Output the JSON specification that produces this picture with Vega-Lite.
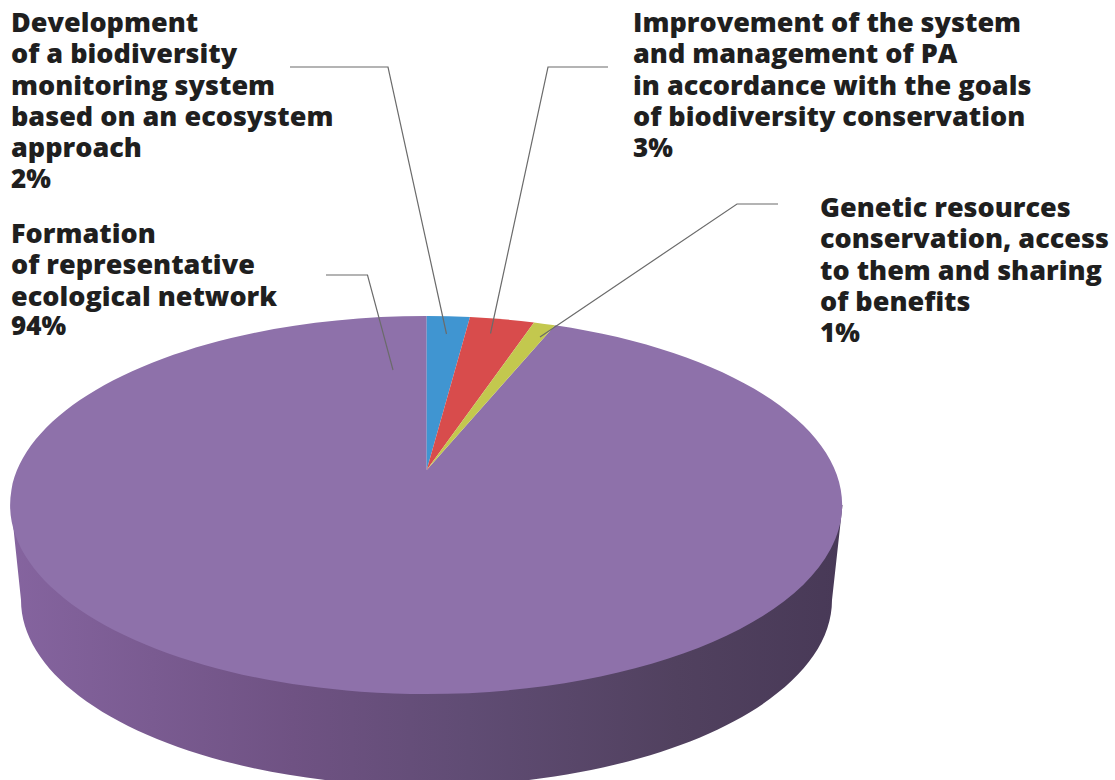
{"$schema":"https://vega.github.io/schema/vega-lite/v6.json","width":1115,"height":780,"padding":0,"autosize":{"type":"fit","contains":"padding"},"background":"white","resolve":{"scale":{"shape":"independent"}},"config":{"view":{"stroke":null},"text":{"font":"Open Sans","fontSize":27,"fontWeight":800,"fill":"#1f1f1f","align":"left","baseline":"alphabetic","lineBreak":"\n","lineHeight":31.3}},"data":{"values":[{"item":"Formation","share":0.94,"label":"Formation\nof representative\necological network"},{"item":"Development","share":0.02,"label":"Development\nof a biodiversity\nmonitoring system\nbased on an ecosystem\napproach"},{"item":"Improvement","share":0.03,"label":"Improvement of the system\nand management of PA\nin accordance with the goals\nof biodiversity conservation"},{"item":"Genetic","share":0.01,"label":"Genetic resources\nconservation, access\nto them and sharing\nof benefits"}]},"layer":[{"transform":[{"filter":"datum.item==='Formation'"}],"mark":{"type":"point","filled":true,"opacity":1,"size":4,"strokeWidth":0,"shape":"M-546.5 115 L-536.5 210 A406 186 0 0 0 -232.5 390 L-28.5 390 A406 186 0 0 0 274.5 210 L285 115 Z","fill":{"gradient":"linear","x1":0,"y1":0,"x2":1,"y2":0,"stops":[{"offset":0,"color":"#85649f"},{"offset":0.34,"color":"#6f5283"},{"offset":0.55,"color":"#604c74"},{"offset":0.8,"color":"#51415f"},{"offset":1,"color":"#483957"}]}}},{"mark":{"type":"point","filled":true,"opacity":1,"size":4,"strokeWidth":0},"encoding":{"shape":{"field":"item","type":"nominal","legend":null,"scale":{"domain":["Formation","Development","Improvement","Genetic"],"range":["M-130.8 80 L-2.5 -64.7 A416 189 0 1 1 -130.8 -74 Z","M-130.8 80 L-130.8 -74 A416 189 0 0 1 -87.5 -73 Z","M-130.8 80 L-87.5 -73 A416 189 0 0 1 -23.5 -67.6 Z","M-130.8 80 L-23.5 -67.6 A416 189 0 0 1 -2.5 -64.7 Z"]}},"color":{"field":"item","type":"nominal","legend":null,"scale":{"domain":["Formation","Development","Improvement","Genetic"],"range":["#8e71aa","#4095d1","#d84c4c","#c3c84e"]}}}},{"mark":{"type":"point","filled":false,"opacity":1,"size":4,"strokeWidth":1.2,"color":"#6b6b6b"},"encoding":{"shape":{"field":"item","type":"nominal","legend":null,"scale":{"domain":["Formation","Development","Improvement","Genetic"],"range":["M-231.5 -115 L-190 -115 L-164.5 -20","M-267.5 -323 L-169.5 -323 L-111 -56","M50.5 -323 L-9.5 -323 L-67 -56.5","M220.5 -186 L179.5 -186 L-17.5 -53"]}}}},{"transform":[{"filter":"datum.item==='Development'"}],"mark":{"type":"text","dx":-546.5,"dy":-358},"encoding":{"text":{"field":"label"}}},{"transform":[{"filter":"datum.item==='Development'"}],"mark":{"type":"text","dx":-546.5,"dy":-202,"fontSize":26},"encoding":{"text":{"field":"share","type":"quantitative","format":".0%"}}},{"transform":[{"filter":"datum.item==='Formation'"}],"mark":{"type":"text","dx":-546.5,"dy":-147},"encoding":{"text":{"field":"label"}}},{"transform":[{"filter":"datum.item==='Formation'"}],"mark":{"type":"text","dx":-546.5,"dy":-55,"fontSize":26},"encoding":{"text":{"field":"share","type":"quantitative","format":".0%"}}},{"transform":[{"filter":"datum.item==='Improvement'"}],"mark":{"type":"text","dx":75.5,"dy":-358},"encoding":{"text":{"field":"label"}}},{"transform":[{"filter":"datum.item==='Improvement'"}],"mark":{"type":"text","dx":75.5,"dy":-233,"fontSize":26},"encoding":{"text":{"field":"share","type":"quantitative","format":".0%"}}},{"transform":[{"filter":"datum.item==='Genetic'"}],"mark":{"type":"text","dx":262.5,"dy":-173},"encoding":{"text":{"field":"label"}}},{"transform":[{"filter":"datum.item==='Genetic'"}],"mark":{"type":"text","dx":262.5,"dy":-48,"fontSize":26},"encoding":{"text":{"field":"share","type":"quantitative","format":".0%"}}}]}
